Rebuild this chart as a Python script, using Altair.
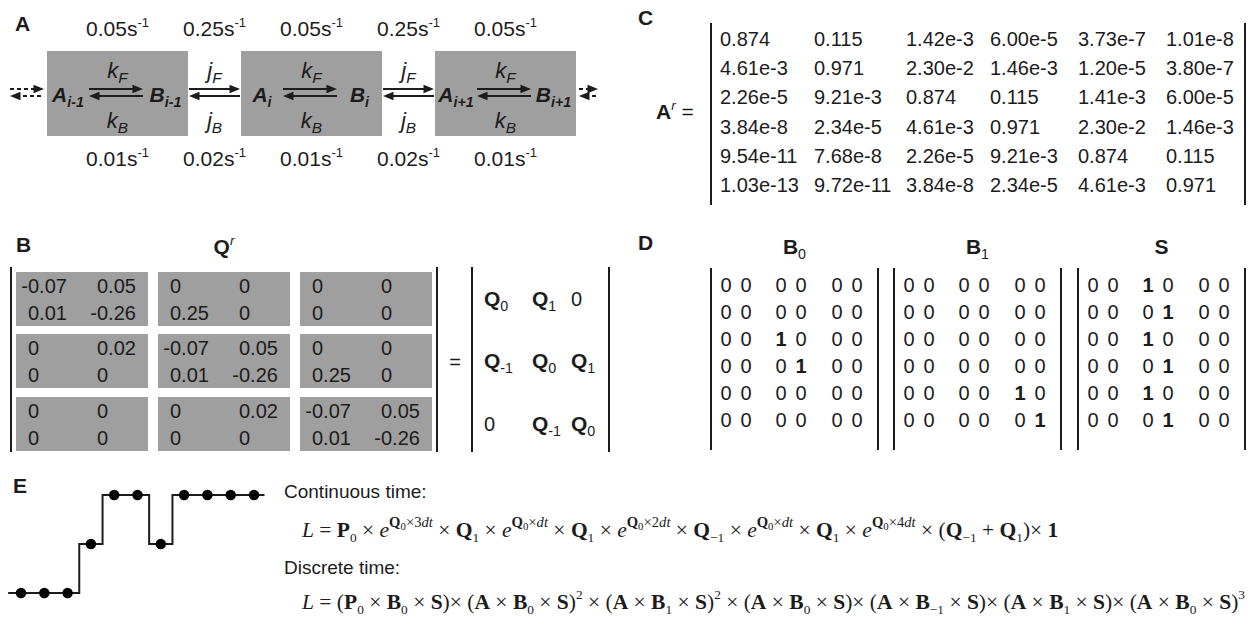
import altair as alt
import pandas as pd

W, H = 1250, 625
INK = "#1c1c1c"
BOX_GRAY = "#9f9f9f"

# ------------------------------------------------------------------ content
PANEL_LETTERS = ["A", "B", "C", "D", "E"]
RATES_TOP = ["0.05", "0.25", "0.05", "0.25", "0.05"]
RATES_BOTTOM = ["0.01", "0.02", "0.01", "0.02", "0.01"]
RATE_UNIT, RATE_POWER = "s", "-1"
SPECIES = ["A", "B"]
SPECIES_SUBS = ["i-1", "i", "i+1"]
IN_RATES = [("k", "F"), ("k", "B")]
OUT_RATES = [("j", "F"), ("j", "B")]

Q_R = [
    ["-0.07", "0.05", "0", "0", "0", "0"],
    ["0.01", "-0.26", "0.25", "0", "0", "0"],
    ["0", "0.02", "-0.07", "0.05", "0", "0"],
    ["0", "0", "0.01", "-0.26", "0.25", "0"],
    ["0", "0", "0", "0.02", "-0.07", "0.05"],
    ["0", "0", "0", "0", "0.01", "-0.26"],
]
Q_BLOCK_SUBS = [["0", "1", ""], ["-1", "0", "1"], ["", "-1", "0"]]  # "" = zero block

A_R = [
    ["0.874", "0.115", "1.42e-3", "6.00e-5", "3.73e-7", "1.01e-8"],
    ["4.61e-3", "0.971", "2.30e-2", "1.46e-3", "1.20e-5", "3.80e-7"],
    ["2.26e-5", "9.21e-3", "0.874", "0.115", "1.41e-3", "6.00e-5"],
    ["3.84e-8", "2.34e-5", "4.61e-3", "0.971", "2.30e-2", "1.46e-3"],
    ["9.54e-11", "7.68e-8", "2.26e-5", "9.21e-3", "0.874", "0.115"],
    ["1.03e-13", "9.72e-11", "3.84e-8", "2.34e-5", "4.61e-3", "0.971"],
]

D_TITLES = [("B", "0"), ("B", "1"), ("S", "")]
B0 = [[0, 0, 0, 0, 0, 0], [0, 0, 0, 0, 0, 0], [0, 0, 1, 0, 0, 0],
      [0, 0, 0, 1, 0, 0], [0, 0, 0, 0, 0, 0], [0, 0, 0, 0, 0, 0]]
B1 = [[0, 0, 0, 0, 0, 0], [0, 0, 0, 0, 0, 0], [0, 0, 0, 0, 0, 0],
      [0, 0, 0, 0, 0, 0], [0, 0, 0, 0, 1, 0], [0, 0, 0, 0, 0, 1]]
S_M = [[0, 0, 1, 0, 0, 0], [0, 0, 0, 1, 0, 0], [0, 0, 1, 0, 0, 0],
       [0, 0, 0, 1, 0, 0], [0, 0, 1, 0, 0, 0], [0, 0, 0, 1, 0, 0]]

STATE_PATH = [0, 0, 0, 1, 2, 2, 1, 2, 2, 2, 2]

CONT_COEFFS = ["3", "", "2", "", "4"]
CONT_JUMPS = ["1", "1", "\u22121", "1"]
DISC_FIRST_B = "0"
DISC_B = ["0", "1", "0", "\u22121", "1", "0"]
DISC_POW = ["2", "2", "", "", "", "3"]

# ------------------------------------------------------------------ text metrics
SANS = {' ': 278, '(': 333, ')': 333, '+': 584, '-': 333, '.': 278, ':': 278, '=': 584,
        'A': 667, 'B': 667, 'C': 722, 'D': 722, 'E': 667, 'F': 611, 'Q': 778, 'S': 667,
        'a': 556, 'c': 500, 'd': 556, 'e': 556, 'i': 222, 'j': 222, 'k': 500, 'm': 833,
        'n': 556, 'o': 556, 'r': 333, 's': 500, 't': 278, 'u': 556}
SANS_BOLD = {'A': 722, 'B': 722, 'C': 722, 'D': 722, 'E': 667, 'Q': 778, 'S': 667,
             'i': 278, '-': 333, '+': 584, 'r': 389}
SERIF = {' ': 250, '(': 333, ')': 333, '+': 564, '=': 564, '\u00d7': 564, '\u2212': 564,
         '-': 333, 'd': 500, 't': 278, 'e': 444}
SERIF_ITALIC = {'L': 556, 'e': 444, 'd': 500, 't': 278}
SERIF_BOLD = {'P': 611, 'Q': 778, 'B': 667, 'S': 556, 'A': 722, '(': 333, ')': 333}


def char_w(c, fam, w, s):
    if c.isdigit():
        return 500 if fam == "serif" else 556
    if fam == "serif":
        tab = SERIF_BOLD if w == "bold" else (SERIF_ITALIC if s == "italic" else SERIF)
        return tab.get(c, SERIF.get(c, 500))
    tab = SANS_BOLD if w == "bold" else SANS
    return tab.get(c, SANS.get(c, 556))


def text_w(t, fam, w, s):
    return sum(char_w(c, fam, w, s) for c in t) / 1000.0


def seg(t, fam="sans", w="normal", s="normal", scale=1.0, shift=0.0):
    return {"t": t, "fam": fam, "w": w, "s": s, "scale": scale, "shift": shift}


text_rows = []


def seg_width(segs, size):
    return sum(text_w(g["t"], g["fam"], g["w"], g["s"]) * size * g["scale"] for g in segs)


def put(segs, x, y, size, align="left"):
    total = seg_width(segs, size)
    x0 = x - (total / 2 if align == "center" else total if align == "right" else 0)
    for g in segs:
        fs = size * g["scale"]
        wd = text_w(g["t"], g["fam"], g["w"], g["s"]) * fs
        stripped = g["t"].lstrip(" ")
        lead = text_w(g["t"][: len(g["t"]) - len(stripped)], g["fam"], g["w"], g["s"]) * fs
        stripped = stripped.rstrip(" ")
        if stripped:
            text_rows.append({"x": x0 + lead, "y": y - g["shift"] * size, "text": stripped,
                              "fam": g["fam"], "w": g["w"], "s": g["s"], "size": fs})
        x0 += wd


def sub_s(t, **kw):
    return seg(t, scale=0.68, shift=-0.25, **kw)


def sup_s(t, **kw):
    return seg(t, scale=0.62, shift=0.42, **kw)


rules, dashed, rects, heads_r, heads_l = [], [], [], [], []

# ------------------------------------------------------------------ panel letters
LETTER_POS = [(15, 31), (16, 252), (638, 25), (638, 250), (13, 493)]
for letter, (lx, ly) in zip(PANEL_LETTERS, LETTER_POS):
    put([seg(letter, w="bold")], lx, ly, 21)

# ------------------------------------------------------------------ panel A
BOX_L, BOX_W, BOX_T, BOX_B = [47, 241, 435], 141, 51, 136
ARR_IN = (42, 96)
UP_Y, LO_Y = 89, 96
for l in BOX_L:
    rects.append({"x": l, "x2": l + BOX_W, "y": BOX_T, "y2": BOX_B})

spans = [(l + ARR_IN[0], l + ARR_IN[1]) for l in BOX_L]
spans += [(BOX_L[i] + BOX_W + 1, BOX_L[i + 1] - 1) for i in range(len(BOX_L) - 1)]
for a, b in spans:
    rules.append({"x": a, "x2": b - 6, "y": UP_Y, "y2": UP_Y})
    rules.append({"x": a + 6, "x2": b, "y": LO_Y, "y2": LO_Y})
    heads_r.append({"x": b, "y": UP_Y})
    heads_l.append({"x": a, "y": LO_Y})
for a, b in [(10, 44), (579, 598)]:
    dashed.append({"x": a, "x2": b - 6, "y": UP_Y, "y2": UP_Y})
    dashed.append({"x": a + 6, "x2": b, "y": LO_Y, "y2": LO_Y})
    heads_r.append({"x": b, "y": UP_Y})
    heads_l.append({"x": a, "y": LO_Y})

box_c = [l + BOX_W / 2 for l in BOX_L]
gap_c = [(BOX_L[i] + BOX_W + BOX_L[i + 1]) / 2 for i in range(len(BOX_L) - 1)]
rate_c = [box_c[0], gap_c[0], box_c[1], gap_c[1], box_c[2]]
for cx, top, bot in zip(rate_c, RATES_TOP, RATES_BOTTOM):
    put([seg(top + RATE_UNIT), sup_s(RATE_POWER)], cx, 36, 21, "center")
    put([seg(bot + RATE_UNIT), sup_s(RATE_POWER)], cx, 166, 21, "center")
for centers, pairs in [(box_c, IN_RATES), (gap_c, OUT_RATES)]:
    for cx in centers:
        for (ch, sb), yy in zip(pairs, [78, 128]):
            put([seg(ch, s="italic"), seg(sb, s="italic", scale=0.7, shift=-0.22)],
                cx, yy, 22, "center")
for l, sb in zip(BOX_L, SPECIES_SUBS):
    for sp, cx in zip(SPECIES, [l + ARR_IN[0] / 2, l + (ARR_IN[1] + BOX_W) / 2]):
        put([seg(sp, w="bold", s="italic"), sub_s(sb, w="bold", s="italic")], cx, 102, 21, "center")

# ------------------------------------------------------------------ panel B
BLK_L, BLK_W, BLK_T, BLK_H = [16, 158, 300], 132, [272, 334, 397], 54
for bi in range(3):
    for bj in range(3):
        rects.append({"x": BLK_L[bj], "x2": BLK_L[bj] + BLK_W, "y": BLK_T[bi],
                      "y2": BLK_T[bi] + BLK_H})
minus_w = text_w("-", "sans", "normal", "normal") * 20
for i, row in enumerate(Q_R):
    for j, val in enumerate(row):
        x = BLK_L[j // 2] + (12 if j % 2 == 0 else 81)
        if val.startswith("-"):
            x -= minus_w
        put([seg(val)], x, BLK_T[i // 2] + (21 if i % 2 == 0 else 48), 20)
B_TOP, B_BOT = 267, 452
for bx in [11, 437, 472, 609]:
    rules.append({"x": bx, "x2": bx, "y": B_TOP, "y2": B_BOT})
put([seg("=")], 455, 369, 20, "center")
put([seg("Q", w="bold"), seg("r", s="italic", scale=0.65, shift=0.45)], 224, 254, 21, "center")
Q_COL_X = [484, 532, 571]
for r, row in enumerate(Q_BLOCK_SUBS):
    yy = BLK_T[r] + BLK_H / 2 + 7
    for c, sb in enumerate(row):
        if sb == "":
            put([seg("0")], Q_COL_X[c], yy, 20)
        else:
            put([seg("Q", w="bold"), sub_s(sb)], Q_COL_X[c], yy, 21)

# ------------------------------------------------------------------ panel C
C_COL_X = [720, 814, 906, 990, 1078, 1166]
C_ROW0, C_STEP = 39, 29.2
for i, row in enumerate(A_R):
    for j, val in enumerate(row):
        put([seg(val)], C_COL_X[j], C_ROW0 + C_STEP * i + 7, 20)
for bx in [711, 1245]:
    rules.append({"x": bx, "x2": bx, "y": 23, "y2": 205})
put([seg("A", w="bold"), seg("r", s="italic", scale=0.65, shift=0.45), seg(" =")], 656, 119, 21)

# ------------------------------------------------------------------ panel D
D_BAR_L, D_W = [711, 894, 1078], 167
D_COL_OFF = [15, 35, 70, 90, 126, 146]
D_ROW0, D_STEP, D_TOP, D_BOT = 285, 27, 268, 450
for bl, mat, (tl, ts) in zip(D_BAR_L, [B0, B1, S_M], D_TITLES):
    segs = [seg(tl, w="bold")] + ([sub_s(ts)] if ts else [])
    put(segs, bl + D_W / 2, 254, 21, "center")
    for bx in [bl, bl + D_W]:
        rules.append({"x": bx, "x2": bx, "y": D_TOP, "y2": D_BOT})
    for i, row in enumerate(mat):
        for j, v in enumerate(row):
            put([seg(str(v), w="bold" if v else "normal")], bl + D_COL_OFF[j],
                D_ROW0 + D_STEP * i + 7, 20, "center")

# ------------------------------------------------------------------ panel E
STEP_X0, STEP_DX = 21, 23.3
LEVEL_Y = {0: 593, 1: 544, 2: 495}
pts = pd.DataFrame({"x": [STEP_X0 + STEP_DX * t for t in range(len(STATE_PATH))],
                    "y": [LEVEL_Y[v] for v in STATE_PATH]})
line_df = pd.concat([
    pd.DataFrame({"x": [STEP_X0 - STEP_DX * 0.55], "y": [LEVEL_Y[STATE_PATH[0]]]}),
    pts,
    pd.DataFrame({"x": [STEP_X0 + STEP_DX * (len(STATE_PATH) - 1 + 0.45)],
                  "y": [LEVEL_Y[STATE_PATH[-1]]]}),
], ignore_index=True)
line_df["o"] = range(len(line_df))

put([seg("Continuous time:")], 284, 498, 19)
put([seg("Discrete time:")], 284, 574, 19)


def R(t): return seg(t, fam="serif")
def I(t): return seg(t, fam="serif", s="italic")
def Bd(t): return seg(t, fam="serif", w="bold")
def sub(t): return seg(t, fam="serif", scale=0.62, shift=-0.22)
def sup(t, **kw): return seg(t, fam="serif", scale=0.68, shift=0.45, **kw)
def supsub(t): return seg(t, fam="serif", scale=0.5, shift=0.33)


def expo(c):
    return [I("e"), sup("Q", w="bold"), supsub("0"), sup("\u00d7" + c), sup("dt", s="italic")]


TIMES = " \u00d7 "
TIGHT = "\u00d7 "
f1 = [I("L"), R(" = "), Bd("P"), sub("0"), R(TIMES)] + expo(CONT_COEFFS[0])
for jmp, cf in zip(CONT_JUMPS, CONT_COEFFS[1:]):
    f1 += [R(TIMES), Bd("Q"), sub(jmp), R(TIMES)] + expo(cf)
f1 += [R(TIMES + "("), Bd("Q"), sub("\u22121"), R(" + "), Bd("Q"), sub("1"), R(")" + TIGHT), Bd("1")]

f2 = [I("L"), R(" = "), R("("), Bd("P"), sub("0"), R(TIMES), Bd("B"), sub(DISC_FIRST_B),
      R(TIMES), Bd("S"), R(")")]
prev_pow = False
for b, p in zip(DISC_B, DISC_POW):
    f2 += [R((TIMES if prev_pow else TIGHT) + "("), Bd("A"), R(TIMES), Bd("B"), sub(b),
           R(TIMES), Bd("S"), R(")")]
    if p:
        f2 += [seg(p, fam="serif", scale=0.62, shift=0.45)]
    prev_pow = bool(p)

F_X0 = 302
f_size = (1245 - F_X0) / seg_width(f2, 1.0)
put(f1, F_X0, 537, f_size)
put(f2, F_X0, 609, f_size)

# ------------------------------------------------------------------ chart
xs = alt.Scale(domain=[0, W], nice=False, zero=False)
ys = alt.Scale(domain=[0, H], nice=False, zero=False, reverse=True)


def X(f="x"):
    return alt.X(f"{f}:Q", scale=xs, axis=None)


def Y(f="y"):
    return alt.Y(f"{f}:Q", scale=ys, axis=None)


layers = []
layers.append(alt.Chart(pd.DataFrame(rects)).mark_rect(color=BOX_GRAY).encode(
    x=X(), x2="x2:Q", y=Y(), y2="y2:Q"))
layers.append(alt.Chart(pd.DataFrame(rules)).mark_rule(color=INK, strokeWidth=2).encode(
    x=X(), x2="x2:Q", y=Y(), y2="y2:Q"))
layers.append(alt.Chart(pd.DataFrame(dashed)).mark_rule(color=INK, strokeWidth=2,
                                                       strokeDash=[4, 3]).encode(
    x=X(), x2="x2:Q", y=Y(), y2="y2:Q"))
layers.append(alt.Chart(pd.DataFrame(heads_r)).mark_point(
    shape="M0,0L-2,-0.8L-2,0.8Z", filled=True, size=110, color=INK, opacity=1,
    strokeWidth=0).encode(x=X(), y=Y()))
layers.append(alt.Chart(pd.DataFrame(heads_l)).mark_point(
    shape="M0,0L2,-0.8L2,0.8Z", filled=True, size=110, color=INK, opacity=1,
    strokeWidth=0).encode(x=X(), y=Y()))
layers.append(alt.Chart(line_df).mark_line(interpolate="step", color=INK, strokeWidth=2).encode(
    x=X(), y=Y(), order="o:Q"))
layers.append(alt.Chart(pts).mark_circle(color="#000000", size=110, opacity=1).encode(
    x=X(), y=Y()))

FONTS = {"sans": "Liberation Sans", "serif": "Liberation Serif"}
tdf = pd.DataFrame(text_rows)
for (fam, w, s), g in tdf.groupby(["fam", "w", "s"]):
    layers.append(alt.Chart(g.reset_index(drop=True)).mark_text(
        font=FONTS[fam], fontWeight=w, fontStyle=s, align="left", baseline="alphabetic",
        color=INK).encode(x=X(), y=Y(), text="text:N", size=alt.Size("size:Q", scale=None)))

chart = alt.layer(*layers).properties(
    width=W, height=H, padding=0, autosize=alt.AutoSizeParams(type="none"),
    background="white",
).configure_view(strokeWidth=0)

chart.save("out.html", embed_options={"renderer": "svg", "actions": False})
